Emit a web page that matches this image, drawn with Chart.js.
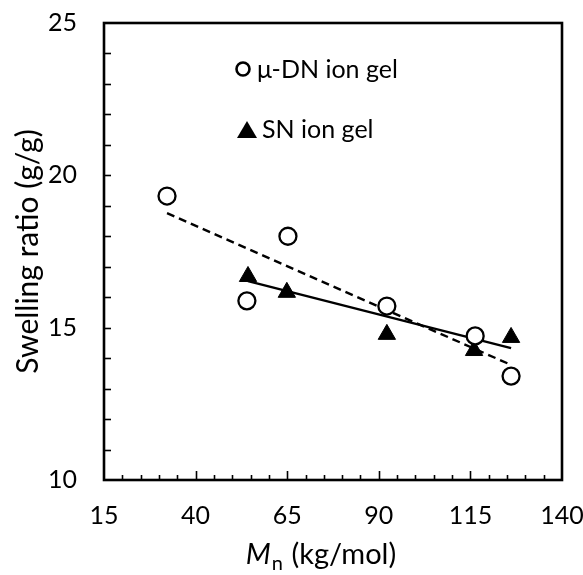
<!DOCTYPE html>
<html>
<head>
<meta charset="utf-8">
<script src="https://cdn.jsdelivr.net/npm/chart.js@4"></script>
<style>
  body { margin: 0; background: #fff; }
  #box { width: 583px; height: 575px; }
</style>
</head>
<body>
<div id="box"><canvas id="swelling" width="583" height="575"></canvas></div>
<script>
// values
const muDnMn = [32.2, 54.0, 65.2, 92.2, 116.3, 126.1];
const muDnRatio = [19.32, 15.88, 18.0, 15.71, 14.73, 13.41];
const snMn = [54.3, 64.9, 92.2, 116.0, 126.1];
const snRatio = [16.68, 16.16, 14.78, 14.25, 14.68];
// fitted lines (end points)
const muDnFitMn = [32.2, 125.5];
const muDnFitRatio = [18.76, 13.81];
const snFitMn = [54.3, 126.1];
const snFitRatio = [16.53, 14.33];

const xTicks = [15, 40, 65, 90, 115, 140];
const yTicks = [10, 15, 20, 25];
const legendLabels = ['μ-DN ion gel', 'SN ion gel'];

const FONT = 'Lato';

function toPoints(xs, ys) {
  return xs.map((x, i) => ({x: x, y: ys[i]}));
}

// frame on all four sides + inward tick marks
const frameTicks = {
  id: 'frameTicks',
  afterDatasetsDraw(chart) {
    const {ctx, chartArea: a, scales: {x, y}} = chart;
    ctx.save();
    ctx.strokeStyle = '#000';
    ctx.lineWidth = 1.6;
    for (let v = xTicks[0] + 5; v < xTicks[xTicks.length - 1]; v += 5) {
      const px = Math.round(x.getPixelForValue(v)) + 0.5;
      const len = xTicks.includes(v) ? 9 : 5;
      ctx.beginPath();
      ctx.moveTo(px, a.bottom);
      ctx.lineTo(px, a.bottom - len);
      ctx.stroke();
    }
    for (let v = yTicks[0] + 1; v < yTicks[yTicks.length - 1]; v += 1) {
      const py = Math.round(y.getPixelForValue(v)) + 0.5;
      ctx.beginPath();
      ctx.moveTo(a.left, py);
      ctx.lineTo(a.left + 7, py);
      ctx.stroke();
    }
    ctx.lineWidth = 2.6;
    ctx.strokeRect(a.left, a.top, a.width, a.height);
    ctx.restore();
  }
};

// legend inside the plot, top middle
const innerLegend = {
  id: 'innerLegend',
  afterDraw(chart) {
    const ctx = chart.ctx;
    ctx.save();
    ctx.fillStyle = '#000';
    ctx.strokeStyle = '#000';
    ctx.font = '25px ' + FONT;
    ctx.textBaseline = 'middle';
    ctx.textAlign = 'left';

    ctx.lineWidth = 2.6;
    ctx.beginPath();
    ctx.arc(243, 69, 6.5, 0, Math.PI * 2);
    ctx.stroke();
    ctx.fillText(legendLabels[0], 257, 70);

    ctx.beginPath();
    ctx.moveTo(247, 121);
    ctx.lineTo(257, 138);
    ctx.lineTo(237, 138);
    ctx.closePath();
    ctx.fill();
    ctx.fillText(legendLabels[1], 262, 130);
    ctx.restore();
  }
};

// x title with italic M and subscript n
const xTitle = {
  id: 'xTitle',
  afterDraw(chart) {
    const ctx = chart.ctx;
    const base = 564;
    ctx.save();
    ctx.fillStyle = '#000';
    ctx.textBaseline = 'alphabetic';
    ctx.textAlign = 'left';
    const big = '29px ' + FONT;
    const sub = '20px ' + FONT;
    ctx.font = 'italic ' + big;
    const wM = ctx.measureText('M').width;
    ctx.font = sub;
    const wN = ctx.measureText('n').width;
    ctx.font = big;
    const rest = ' (kg/mol)';
    const wR = ctx.measureText(rest).width;
    let x0 = 320 - (wM + wN + wR) / 2;
    ctx.font = 'italic ' + big;
    ctx.fillText('M', x0, base);
    ctx.font = sub;
    ctx.fillText('n', x0 + wM + 1, base + 6);
    ctx.font = big;
    ctx.fillText(rest, x0 + wM + wN + 2, base);
    ctx.restore();
  }
};

function buildConfig() {
  const data = {
    datasets: [
      {
        label: legendLabels[0],
        data: toPoints(muDnMn, muDnRatio),
        pointStyle: 'circle',
        pointRadius: 8.5,
        pointBorderWidth: 2.3,
        pointBorderColor: '#000',
        pointBackgroundColor: '#fff',
        showLine: false
      },
      {
        label: legendLabels[1],
        data: toPoints(snMn, snRatio),
        pointStyle: 'triangle',
        pointRadius: 10,
        pointBorderWidth: 1,
        pointBorderColor: '#000',
        pointBackgroundColor: '#000',
        showLine: false
      },
      {
        label: 'fit μ-DN',
        data: toPoints(muDnFitMn, muDnFitRatio),
        showLine: true,
        pointRadius: 0,
        borderColor: '#000',
        borderWidth: 2.4,
        borderDash: [8, 5]
      },
      {
        label: 'fit SN',
        data: toPoints(snFitMn, snFitRatio),
        showLine: true,
        pointRadius: 0,
        borderColor: '#000',
        borderWidth: 2.4
      }
    ]
  };

  const config = {
    type: 'scatter',
    data: data,
    options: {
      responsive: false,
      animation: false,
      layout: {
        padding: {top: 23, right: 21, left: 0, bottom: 0}
      },
      plugins: {
        legend: {display: false},
        tooltip: {enabled: false}
      },
      scales: {
        x: {
          type: 'linear',
          min: xTicks[0],
          max: xTicks[xTicks.length - 1],
          afterBuildTicks: (s) => { s.ticks = xTicks.map(v => ({value: v})); },
          afterFit: (s) => {
            s.height = 95;
            s.paddingLeft = 0;
            s.paddingRight = 0;
          },
          grid: {display: false, drawTicks: false},
          border: {display: false},
          ticks: {
            padding: 21,
            color: '#000',
            font: {family: FONT, size: 25}
          }
        },
        y: {
          type: 'linear',
          min: yTicks[0],
          max: yTicks[yTicks.length - 1],
          afterBuildTicks: (s) => { s.ticks = yTicks.map(v => ({value: v})); },
          afterFit: (s) => {
            s.width = 104;
            s.paddingTop = 0;
            s.paddingBottom = 0;
          },
          grid: {display: false, drawTicks: false},
          border: {display: false},
          ticks: {
            padding: 27,
            color: '#000',
            font: {family: FONT, size: 25}
          },
          title: {
            display: true,
            text: 'Swelling ratio (g/g)',
            color: '#000',
            font: {family: FONT, size: 30},
            padding: {top: 10, bottom: 0}
          }
        }
      }
    },
    plugins: [frameTicks, innerLegend, xTitle]
  };
  return config;
}

const swellingChart = new Chart(document.querySelector('#swelling'), buildConfig());
</script>
</body>
</html>
